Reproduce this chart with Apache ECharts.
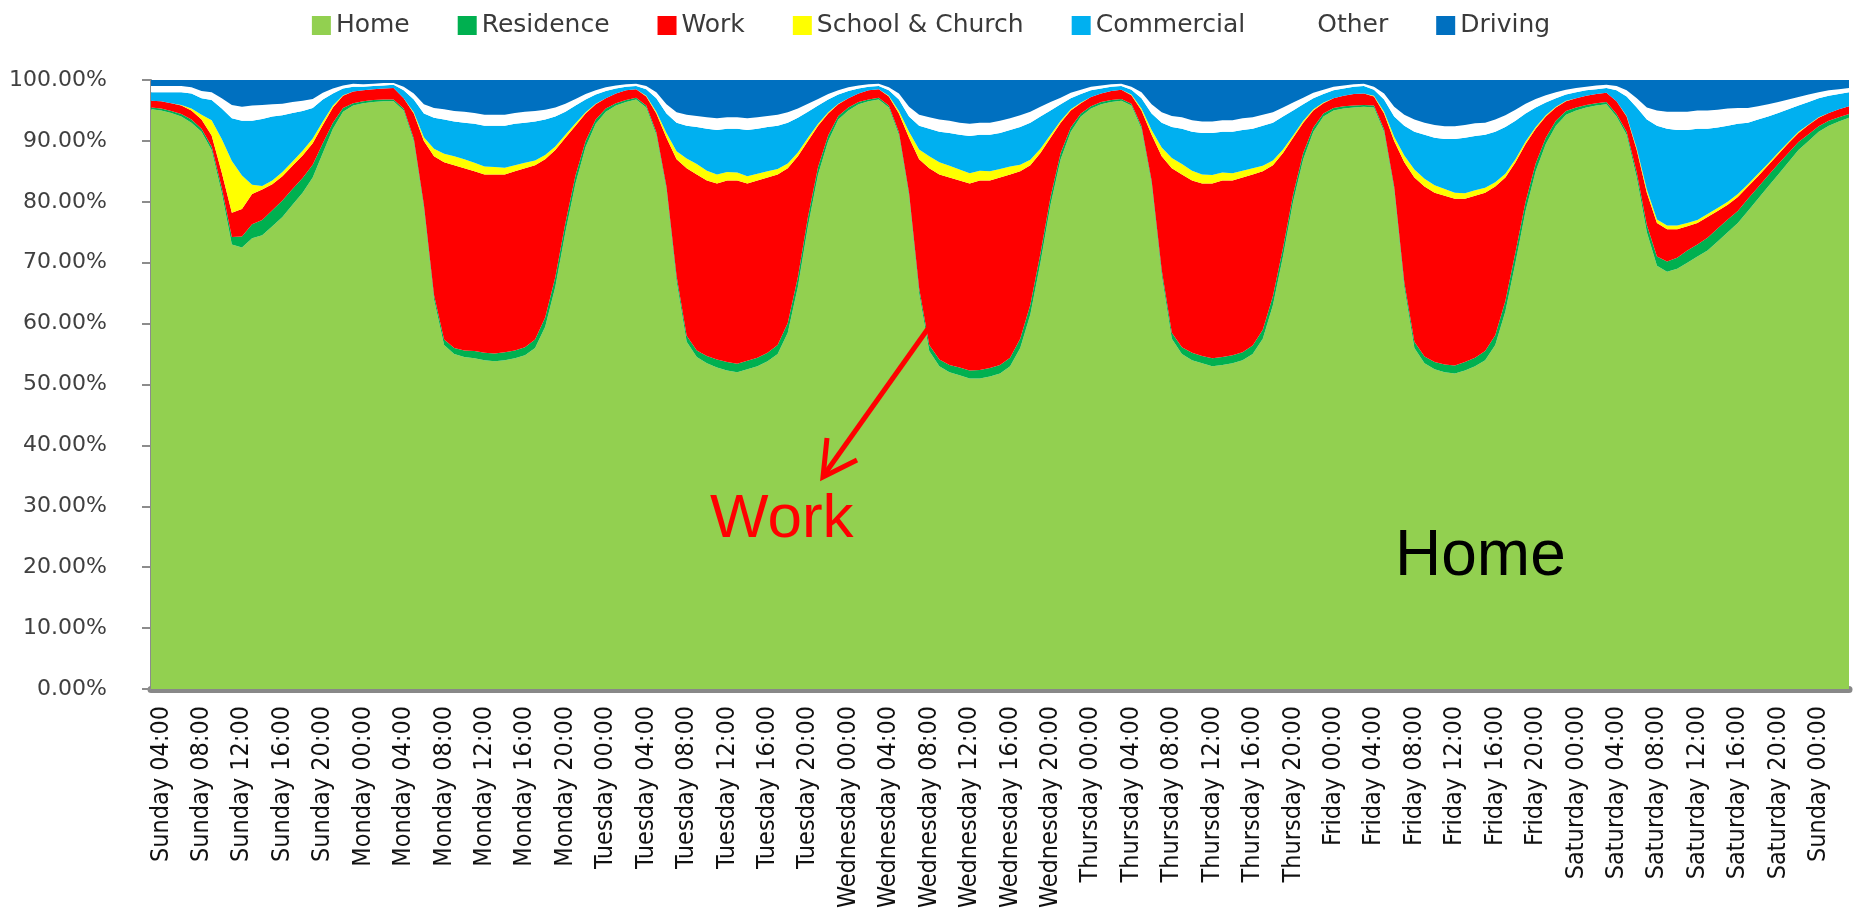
<!DOCTYPE html>
<html>
<head>
<meta charset="utf-8">
<script src="https://cdn.jsdelivr.net/npm/echarts@6/dist/echarts.min.js"></script>
<style>
  html, body { margin: 0; padding: 0; background: #ffffff; }
  #chart { width: 1862px; height: 922px; }
</style>
</head>
<body>
<div id="chart"></div>
<script>
// ---- Category labels (hourly, Sunday 03:00 .. next Sunday 03:00) ----
const firstCategory = 'Sunday 03:00';
const dayNames = ['Sunday', 'Monday', 'Tuesday', 'Wednesday', 'Thursday', 'Friday', 'Saturday', 'Sunday'];
const hourNames = ['00:00','01:00','02:00','03:00','04:00','05:00','06:00','07:00','08:00','09:00','10:00','11:00',
                   '12:00','13:00','14:00','15:00','16:00','17:00','18:00','19:00','20:00','21:00','22:00','23:00'];
const yTickLabels = ['0.00%','10.00%','20.00%','30.00%','40.00%','50.00%','60.00%','70.00%','80.00%','90.00%','100.00%'];

// ---- Series values (% of people), first value = Sunday 03:00, then one row per day 04:00..03:00 ----
const home = [95.2,
  95.0,94.6,94.0,93.0,91.5,88.5,81.5,73.0,72.5,74.0,74.5,76.0,77.5,79.5,81.5,84.0,88.0,92.0,94.8,95.8,96.2,96.4,96.5,96.5,
  95.0,90.0,79.0,64.0,56.5,55.0,54.5,54.3,54.0,53.8,54.0,54.3,54.8,56.0,59.5,66.0,75.0,83.0,89.0,92.8,94.8,95.8,96.4,96.8,
  95.5,91.0,82.0,67.0,57.0,54.5,53.5,52.8,52.3,52.0,52.5,53.0,53.8,55.0,58.5,66.0,76.0,84.5,90.0,93.5,95.0,96.0,96.5,96.8,
  95.5,91.0,81.0,65.0,55.5,53.0,52.0,51.5,51.0,51.0,51.3,51.8,53.0,56.0,61.5,70.0,79.5,87.0,91.5,94.0,95.3,96.0,96.4,96.6,
  95.8,92.0,83.0,68.0,57.5,55.0,54.0,53.5,53.0,53.2,53.5,54.0,55.0,57.5,63.0,71.0,80.0,87.0,91.5,94.0,95.0,95.3,95.5,95.6,
  95.5,91.5,82.0,66.0,56.0,53.5,52.5,52.0,51.8,52.3,53.0,54.0,56.5,62.0,70.0,78.5,85.0,89.5,92.5,94.3,95.0,95.5,95.8,96.0,
  94.0,91.0,84.0,75.0,69.5,68.5,69.0,70.0,71.0,72.0,73.5,75.0,76.5,78.5,80.5,82.5,84.5,86.5,88.5,90.0,91.5,92.5,93.2,93.8];
const residence = [0.3,
  0.3,0.3,0.4,0.5,0.5,0.6,0.8,1.2,1.8,2.3,2.5,2.6,2.7,2.6,2.4,2.1,1.6,1.0,0.6,0.4,0.3,0.3,0.3,0.3,
  0.3,0.4,0.5,0.7,0.9,1.0,1.1,1.2,1.2,1.3,1.3,1.3,1.3,1.4,1.5,1.6,1.5,1.3,1.0,0.7,0.5,0.4,0.3,0.3,
  0.3,0.4,0.5,0.8,1.0,1.1,1.2,1.3,1.4,1.4,1.4,1.4,1.4,1.5,1.6,1.6,1.5,1.2,0.9,0.6,0.5,0.4,0.3,0.3,
  0.3,0.4,0.5,0.8,1.0,1.1,1.2,1.3,1.3,1.4,1.4,1.4,1.4,1.5,1.6,1.5,1.3,1.0,0.7,0.5,0.4,0.4,0.3,0.3,
  0.3,0.4,0.5,0.8,1.0,1.1,1.2,1.2,1.3,1.3,1.3,1.3,1.4,1.5,1.5,1.4,1.2,1.0,0.7,0.5,0.4,0.4,0.3,0.3,
  0.3,0.4,0.5,0.8,1.0,1.1,1.2,1.3,1.3,1.4,1.4,1.5,1.6,1.7,1.7,1.5,1.3,1.0,0.8,0.6,0.5,0.4,0.4,0.4,
  0.4,0.5,0.8,1.2,1.5,1.7,1.8,2.0,2.0,2.1,2.1,2.1,2.0,2.0,1.9,1.8,1.7,1.5,1.3,1.1,0.9,0.8,0.7,0.6];
const work = [1.1,
  1.2,1.3,1.4,1.5,1.5,1.8,2.5,4.0,4.5,5.0,5.0,4.3,4.0,3.8,3.7,3.5,3.0,2.5,2.0,1.9,1.8,1.8,1.8,1.9,
  1.7,4.1,10.5,22.8,29.1,30.0,29.9,29.5,29.3,29.4,29.2,29.4,29.4,28.6,26.0,20.9,14.0,8.2,4.5,2.5,1.7,1.6,1.6,1.4,
  1.5,3.1,8.0,19.2,27.5,28.9,28.8,28.9,29.8,30.1,29.1,29.1,28.8,28.0,25.4,19.9,12.5,6.8,3.6,1.9,1.5,1.4,1.5,1.4,
  1.5,3.1,9.0,21.2,29.0,30.4,30.8,30.7,30.7,31.1,30.8,30.8,30.1,27.5,22.9,16.5,9.7,5.0,2.8,1.7,1.5,1.4,1.5,1.5,
  1.4,2.6,7.5,18.7,27.0,28.4,28.3,28.3,28.7,29.0,28.7,28.7,28.1,26.0,21.5,15.6,9.3,5.0,2.8,1.7,1.6,1.7,1.9,1.9,
  1.5,2.6,7.5,19.7,27.0,27.9,27.8,27.7,27.4,26.8,26.6,26.0,24.4,20.3,14.8,9.5,5.7,3.5,2.2,1.6,1.5,1.5,1.5,1.5,
  2.1,2.5,3.7,5.3,5.5,5.3,4.7,4.0,3.5,3.4,2.9,2.4,2.3,2.0,1.8,1.7,1.6,1.6,1.5,1.5,1.4,1.3,1.3,1.3];
const schoolChurch = [0,
  0,0,0.1,0.3,0.8,2.5,5.5,8.5,5.5,1.5,0.6,0.6,0.7,0.7,0.8,0.8,0.6,0.3,0.1,0,0,0,0,0,
  0,0.2,0.6,1.2,1.4,1.5,1.5,1.4,1.3,1.2,1.1,1.0,0.9,0.8,0.7,0.6,0.5,0.4,0.2,0.1,0,0,0,0,
  0.1,0.3,0.8,1.3,1.6,1.7,1.6,1.5,1.4,1.3,1.2,1.1,1.0,0.9,0.8,0.6,0.5,0.3,0.2,0.1,0,0,0,0,
  0.1,0.4,1.0,1.6,2.0,2.0,1.9,1.8,1.7,1.6,1.5,1.4,1.3,1.1,0.9,0.7,0.5,0.3,0.2,0.1,0,0,0,0,
  0.1,0.3,0.8,1.4,1.7,1.7,1.6,1.5,1.4,1.3,1.2,1.1,1.0,0.9,0.8,0.6,0.4,0.3,0.2,0.1,0,0,0,0,
  0.1,0.3,0.7,1.1,1.3,1.3,1.2,1.1,1.0,0.9,0.9,0.8,0.7,0.6,0.5,0.4,0.3,0.2,0.1,0.1,0,0,0,0,
  0,0.1,0.3,0.5,0.6,0.6,0.6,0.5,0.5,0.5,0.5,0.5,0.5,0.4,0.4,0.3,0.3,0.2,0.2,0.1,0.1,0,0,0];
const commercial = [1.4,
  1.5,1.8,2.1,2.5,2.7,3.3,5.0,7.0,9.0,10.5,11.0,10.5,9.3,8.0,6.5,5.0,3.6,2.0,1.1,0.8,0.6,0.5,0.5,0.5,
  1.3,2.1,3.9,5.1,5.6,5.7,6.0,6.4,6.7,6.8,6.9,6.8,6.6,6.4,5.8,4.9,3.8,2.9,2.1,1.5,1.2,0.8,0.6,0.5,
  1.1,2.2,3.2,4.7,5.4,6.1,6.9,7.3,7.1,7.2,7.6,7.4,7.3,7.1,6.7,5.7,4.3,3.0,2.1,1.5,1.2,0.8,0.6,0.5,
  0.9,1.9,2.5,3.9,4.5,5.0,5.4,5.7,6.1,5.9,6.0,5.9,6.0,6.2,6.1,5.3,4.0,2.7,1.8,1.4,1.1,0.8,0.7,0.6,
  0.8,1.7,2.7,4.1,5.1,5.8,6.4,6.8,6.9,6.7,6.8,6.7,6.5,6.6,6.2,5.4,4.1,2.7,1.8,1.4,1.3,1.2,1.2,1.2,
  1.0,2.0,3.3,4.9,6.2,7.2,7.8,8.2,8.8,9.1,8.9,8.7,8.3,7.7,6.3,4.6,3.2,2.1,1.4,1.0,1.0,0.9,0.8,0.8,
  1.8,3.2,6.7,11.5,15.4,15.9,15.7,15.3,15.0,14.0,13.2,12.5,11.5,10.1,8.9,7.7,6.5,5.4,4.3,3.7,3.1,2.8,2.5,2.3];
const other = [1.0,
  1.0,1.0,1.0,1.0,1.2,1.3,1.7,2.2,2.3,2.5,2.3,2.0,1.9,1.8,1.7,1.5,1.1,0.8,0.5,0.5,0.4,0.4,0.4,0.3,
  0.6,1.0,1.5,1.6,1.7,1.7,1.8,1.8,1.8,1.8,1.8,1.8,1.8,1.7,1.6,1.5,1.3,1.1,0.9,0.7,0.6,0.5,0.4,0.4,
  0.5,1.0,1.5,1.7,1.8,1.8,1.9,1.9,1.9,1.9,1.9,1.9,1.8,1.8,1.7,1.5,1.3,1.1,0.9,0.7,0.6,0.5,0.4,0.4,
  0.5,1.0,1.6,1.8,1.9,2.0,2.0,2.0,2.0,2.0,2.0,2.0,1.9,1.9,1.8,1.6,1.4,1.1,0.9,0.7,0.6,0.5,0.4,0.4,
  0.5,1.0,1.5,1.7,1.8,1.9,1.9,1.9,1.9,1.9,1.9,1.9,1.9,1.8,1.7,1.5,1.3,1.1,0.9,0.7,0.6,0.5,0.4,0.4,
  0.5,1.0,1.6,1.8,2.0,2.0,2.1,2.1,2.1,2.1,2.1,2.0,2.0,1.9,1.8,1.6,1.4,1.2,1.0,0.8,0.7,0.6,0.6,0.5,
  0.7,1.0,1.5,2.0,2.5,2.8,3.0,3.0,3.0,3.0,2.9,2.8,2.6,2.4,2.2,2.0,1.8,1.6,1.4,1.2,1.0,0.9,0.8,0.7];
const driving = [1.0,
  1.0,1.0,1.0,1.2,1.8,2.0,3.0,4.1,4.4,4.2,4.1,4.0,3.9,3.6,3.4,3.1,2.1,1.4,0.9,0.6,0.7,0.6,0.5,0.5,
  1.1,2.2,4.0,4.6,4.8,5.1,5.2,5.4,5.7,5.7,5.7,5.4,5.2,5.1,4.9,4.5,3.9,3.1,2.3,1.7,1.2,0.9,0.7,0.6,
  1.0,2.0,4.0,5.3,5.7,5.9,6.1,6.3,6.1,6.1,6.3,6.1,5.9,5.7,5.3,4.7,3.9,3.1,2.3,1.7,1.2,0.9,0.7,0.6,
  1.2,2.2,4.4,5.7,6.1,6.5,6.7,7.0,7.2,7.0,7.0,6.7,6.3,5.8,5.2,4.4,3.6,2.9,2.1,1.6,1.1,0.9,0.7,0.6,
  1.1,2.0,4.0,5.3,5.9,6.1,6.6,6.8,6.8,6.6,6.6,6.3,6.1,5.7,5.3,4.5,3.7,2.9,2.1,1.6,1.1,0.9,0.7,0.6,
  1.1,2.2,4.4,5.7,6.5,7.0,7.4,7.6,7.6,7.4,7.1,7.0,6.5,5.8,4.9,3.9,3.1,2.5,2.0,1.6,1.3,1.1,0.9,0.8,
  1.0,1.7,3.0,4.5,5.0,5.2,5.2,5.2,5.0,5.0,4.9,4.7,4.6,4.6,4.3,4.0,3.6,3.2,2.8,2.4,2.0,1.7,1.5,1.3];

const seriesNames = ['Home', 'Residence', 'Work', 'School & Church', 'Commercial', 'Other', 'Driving'];
const seriesColors = ['#92D050', '#00B050', '#FF0000', '#FFFF00', '#00B0F0', '#FFFFFF', '#0070C0'];
const seriesValues = [home, residence, work, schoolChurch, commercial, other, driving];

// build hourly category labels
const categories = [firstCategory];
for (let b = 0; b < 7; b++) {
  for (let d = 0; d < 24; d++) {
    const h = 4 + d;
    categories.push(h < 24 ? dayNames[b] + ' ' + hourNames[h] : dayNames[b + 1] + ' ' + hourNames[h - 24]);
  }
}

const chart = echarts.init(document.getElementById('chart'), null, { renderer: 'canvas' });

const option = {
  animation: false,
  backgroundColor: '#ffffff',
  legend: {
    top: 8,
    left: 'center',
    icon: 'rect',
    itemWidth: 19,
    itemHeight: 19,
    itemGap: 48,
    data: seriesNames,
    textStyle: { fontFamily: 'DejaVu Sans', fontSize: 25, color: '#3a3a3a' }
  },
  grid: { left: 151, right: 13, top: 80, bottom: 233, containLabel: false },
  xAxis: {
    type: 'category',
    boundaryGap: false,
    data: categories,
    offset: 3,
    axisLine: { show: true, lineStyle: { color: '#888888', width: 7 } },
    axisTick: { show: false },
    axisLabel: {
      rotate: 90,
      interval: function (idx) { return idx % 4 === 1; },
      margin: 14,
      fontFamily: "'DejaVu Sans Condensed', 'Liberation Sans Narrow', 'DejaVu Sans', sans-serif",
      fontSize: 25,
      color: '#111111'
    },
    splitLine: { show: false }
  },
  yAxis: {
    type: 'value',
    min: 0,
    max: 100,
    interval: 10,
    axisLine: { show: true, lineStyle: { color: '#8c8c8c', width: 2 } },
    axisTick: { show: true, inside: false, length: 9, lineStyle: { color: '#8c8c8c', width: 2 } },
    axisLabel: {
      margin: 44,
      fontFamily: 'DejaVu Sans',
      fontSize: 22,
      color: '#404040',
      formatter: function (v) { return yTickLabels[Math.round(v / 10)]; }
    },
    splitLine: { show: false }
  },
  series: seriesNames.map(function (name, i) {
    return {
      name: name,
      type: 'line',
      stack: 'total',
      data: seriesValues[i],
      symbol: 'none',
      showSymbol: false,
      lineStyle: { width: 0 },
      itemStyle: { color: seriesColors[i] },
      areaStyle: { color: seriesColors[i], opacity: 1 },
      emphasis: { disabled: true },
      z: 2
    };
  }),
  graphic: [
    { type: 'line', z: 100, shape: { x1: 932, y1: 323, x2: 824, y2: 475 },
      style: { stroke: '#FF0000', lineWidth: 5 } },
    { type: 'polyline', z: 100, shape: { points: [[857, 460], [823, 477], [827, 438]] },
      style: { stroke: '#FF0000', lineWidth: 5, fill: null, lineJoin: 'miter' } },
    { type: 'text', z: 100, x: 710, y: 520,
      style: { text: 'Work', fill: '#FF0000', font: "62px 'Liberation Sans', Arial, sans-serif", textVerticalAlign: 'middle' } },
    { type: 'text', z: 100, x: 1395, y: 557,
      style: { text: 'Home', fill: '#000000', font: "64px 'Liberation Sans', Arial, sans-serif", textVerticalAlign: 'middle' } }
  ]
};

chart.setOption(option);
</script>
</body>
</html>
